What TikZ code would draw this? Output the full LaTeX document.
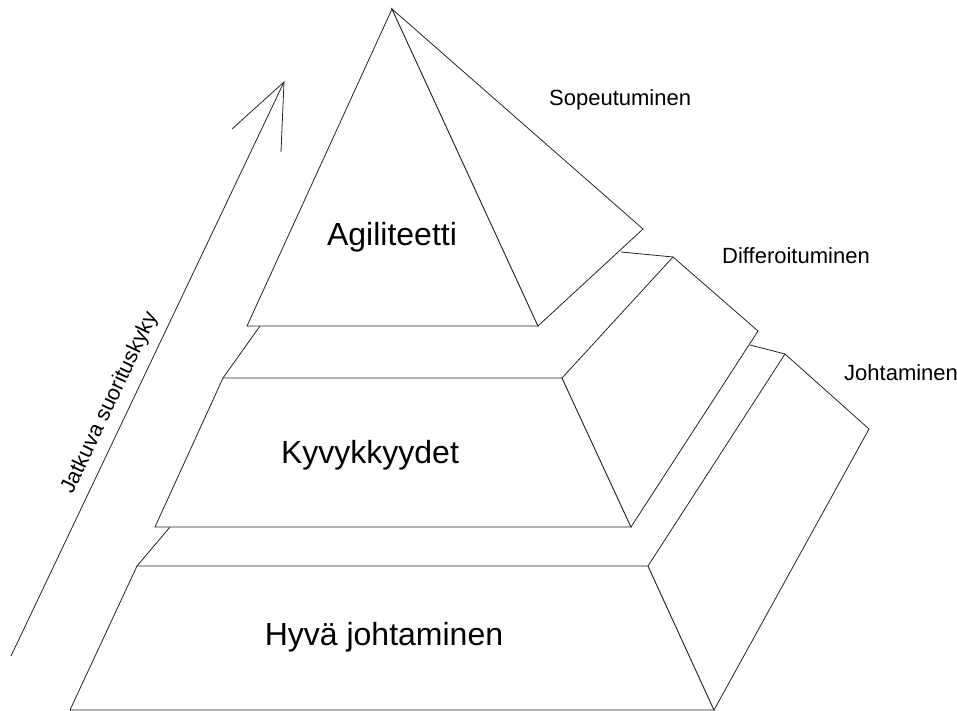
\documentclass[tikz,border=0pt]{standalone}
\usepackage{fontspec}
\setmainfont{Liberation Sans}
\begin{document}
\begin{tikzpicture}[x=1pt,y=-1pt,
  edge/.style={draw=black!85,line width=0.8pt,line join=miter},
  face/.style={edge,fill=white},
  biglabel/.style={font=\fontsize{32}{36}\selectfont,inner sep=0pt,anchor=base},
  sidelabel/.style={font=\fontsize{22}{26}\selectfont,inner sep=0pt,anchor=base west}]
\useasboundingbox (0,0) rectangle (957,711);
\fill[white] (0,0) rectangle (957,711);
% coordinates
\coordinate (apex) at (392,9);
\coordinate (pl) at (247,326);
\coordinate (pr) at (538,326);
\coordinate (pb) at (643,229);
\coordinate (l1a) at (260,326);
\coordinate (l1r) at (621,252);
\coordinate (ktl) at (223,378);
\coordinate (ktr) at (562,378);
\coordinate (kbr) at (631,527);
\coordinate (kbl) at (155,527);
\coordinate (kbk) at (673,257);
\coordinate (kbb) at (758,331);
\coordinate (l2a) at (170,527);
\coordinate (l2r) at (750,345);
\coordinate (htl) at (137,566);
\coordinate (htr) at (648,566);
\coordinate (hbr) at (714,710);
\coordinate (hbl) at (70,710);
\coordinate (hbk) at (785,354);
\coordinate (hbb) at (869,429);
\coordinate (ab) at (11,656);
\coordinate (at) at (284,82);
\coordinate (ah1) at (232,129);
\coordinate (ah2) at (281,152);
% bottom block
\draw[face] (htl) -- (htr) -- (hbr) -- (hbl) -- cycle;
\draw[face] (htr) -- (hbk) -- (hbb) -- (hbr) -- cycle;
\draw[edge] (l2a) -- (htl);
\draw[edge] (hbk) -- (l2r);
% middle block
\draw[face] (ktl) -- (ktr) -- (kbr) -- (kbl) -- cycle;
\draw[face] (ktr) -- (kbk) -- (kbb) -- (kbr) -- cycle;
\draw[edge] (l1a) -- (ktl);
\draw[edge] (kbk) -- (l1r);
% pyramid
\draw[face] (apex) -- (pl) -- (pr) -- cycle;
\draw[face] (apex) -- (pr) -- (pb) -- cycle;
% arrow
\draw[edge] (ab) -- (at);
\draw[edge] (ah1) -- (at) -- (ah2);
% labels
\node[biglabel] (agi) at (392,245) {Agiliteetti};
\node[biglabel] (kyv) at (370,463) {Kyvykkyydet};
\node[biglabel] (hyva) at (384,645) {Hyvä johtaminen};
\node[sidelabel] (sop) at (549,106) {Sopeutuminen};
\node[sidelabel] (dif) at (722,263) {Differoituminen};
\node[sidelabel] (joh) at (844,380) {Johtaminen};
\node[font=\fontsize{21.5}{25}\selectfont,inner sep=0pt,rotate=64.6] (jat) at (110,403) {Jatkuva suorituskyky};
\end{tikzpicture}
\end{document}
